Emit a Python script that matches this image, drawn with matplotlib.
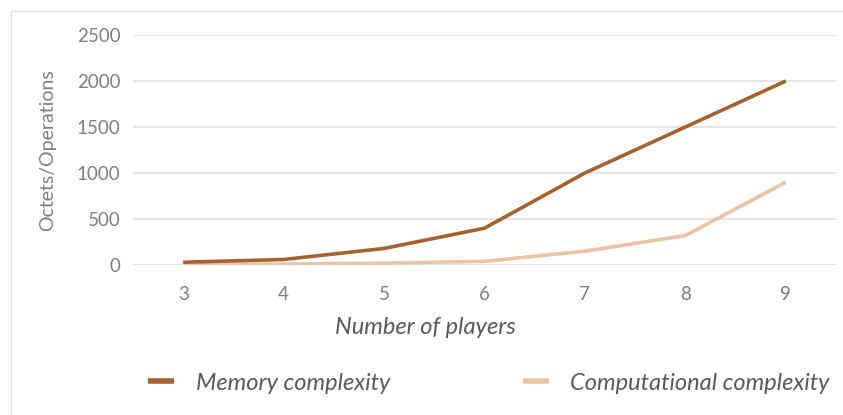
import matplotlib
matplotlib.use("Agg")
import matplotlib.pyplot as plt
from matplotlib.patches import Rectangle

players = [3, 4, 5, 6, 7, 8, 9]
memory = [30, 60, 180, 400, 1000, 1500, 2000]
computational = [5, 10, 20, 40, 150, 320, 900]
y_ticks = [0, 500, 1000, 1500, 2000, 2500]

mem_color = "#a5622f"
comp_color = "#ebc4a6"
text_color = "#7f7f7f"
grid_color = "#e3e3e3"

plt.rcParams["font.family"] = ["Lato", "DejaVu Sans"]

fig = plt.figure(figsize=(8.43, 4.15), dpi=100)
W, H = 843, 415

# light frame around the chart area
fig.patches.append(Rectangle((11 / W, -0.01), 1.0, 1 - 11 / H + 0.01,
                             transform=fig.transFigure, fill=False,
                             edgecolor="#e0e0e0", linewidth=1.0))

ax = fig.add_axes([133 / W, 1 - 265 / H, (836 - 133) / W, 230 / H])
x = list(range(len(players)))
ax.plot(x, memory, color=mem_color, linewidth=2.6, solid_capstyle="butt",
        label="Memory complexity", zorder=3)
ax.plot(x, computational, color=comp_color, linewidth=2.6, solid_capstyle="butt",
        label="Computational complexity", zorder=2)

ax.set_xlim(-0.5, len(players) - 0.5)
ax.set_ylim(0, 2500)
ax.set_yticks(y_ticks)
ax.set_yticklabels([str(v) for v in y_ticks])
ax.set_xticks(x)
ax.set_xticklabels([str(p) for p in players])
ax.yaxis.grid(True, color=grid_color, linewidth=1.3)
ax.set_axisbelow(True)
for s in ax.spines.values():
    s.set_visible(False)
ax.tick_params(axis="both", length=0, colors=text_color, labelsize=13.5)
ax.tick_params(axis="y", pad=9)
ax.tick_params(axis="x", pad=15)

fig.text(48 / W, 1 - 150 / H, "Octets/Operations", rotation=90, ha="center",
         va="center", color=text_color, fontsize=14)
fig.text(425 / W, 1 - 328 / H, "Number of players", ha="center", va="center",
         color="#595959", fontsize=17, style="italic")

leg = fig.legend(loc="center left", bbox_to_anchor=(148 / W, 1 - 383 / H), ncol=2,
                 frameon=False, fontsize=17, handlelength=1.1,
                 columnspacing=5.6, handletextpad=0.93,
                 borderpad=0, borderaxespad=0)
for t in leg.get_texts():
    t.set_color("#595959")
    t.set_fontstyle("italic")
for h in leg.get_lines():
    h.set_linewidth(4)

fig.savefig("out.png", dpi=100)
